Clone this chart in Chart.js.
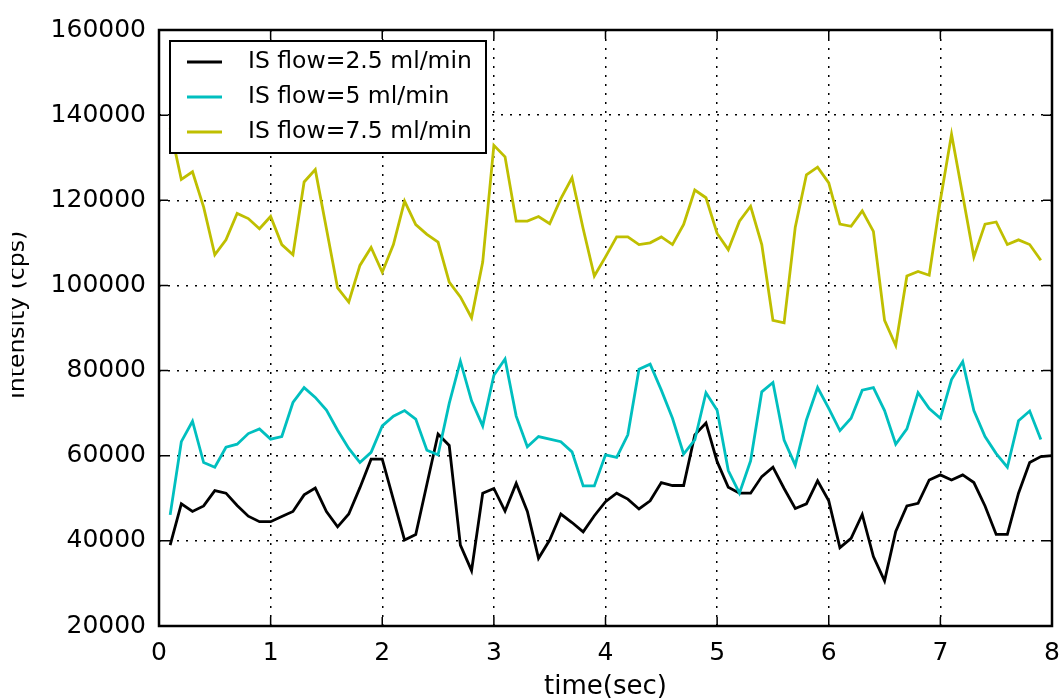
<!DOCTYPE html>
<html>
<head>
<meta charset="utf-8">
<script src="https://cdn.jsdelivr.net/npm/chart.js@4/dist/chart.umd.min.js"></script>
<style>
  html, body { margin: 0; padding: 0; background: #fff; }
  #wrap { width: 1061px; height: 698px; position: relative; }
</style>
</head>
<body>
<div id="wrap"><canvas id="intensityChart"></canvas></div>
<script>
// time axis, seconds
const times = [
  0.1, 0.2, 0.3, 0.4, 0.5, 0.6, 0.7, 0.8, 0.9, 1.0,
  1.1, 1.2, 1.3, 1.4, 1.5, 1.6, 1.7, 1.8, 1.9, 2.0,
  2.1, 2.2, 2.3, 2.4, 2.5, 2.6, 2.7, 2.8, 2.9, 3.0,
  3.1, 3.2, 3.3, 3.4, 3.5, 3.6, 3.7, 3.8, 3.9, 4.0,
  4.1, 4.2, 4.3, 4.4, 4.5, 4.6, 4.7, 4.8, 4.9, 5.0,
  5.1, 5.2, 5.3, 5.4, 5.5, 5.6, 5.7, 5.8, 5.9, 6.0,
  6.1, 6.2, 6.3, 6.4, 6.5, 6.6, 6.7, 6.8, 6.9, 7.0,
  7.1, 7.2, 7.3, 7.4, 7.5, 7.6, 7.7, 7.8, 7.9, 8.0
];

// intensity (cps) per IS flow
const flow25 = [
  39000, 48700, 46900, 48200, 51800, 51200, 48300, 45800, 44500, 44500,
  45700, 46900, 50800, 52400, 46900, 43300, 46300, 52500, 59200, 59200,
  49700, 40200, 41500, 53300, 65100, 62400, 39000, 33000, 51200, 52300,
  47000, 53500, 46900, 35900, 40200, 46300, 44300, 42100, 45900, 49200,
  51200, 49800, 47500, 49400, 53700, 53000, 53000, 64900, 67700, 58600,
  52600, 51200, 51200, 55100, 57300, 52300, 47600, 48700, 54100, 49400,
  38400, 40600, 46200, 36300, 30600, 42200, 48200, 48800, 54300, 55500,
  54300, 55500, 53700, 48200, 41500, 41500, 51200, 58400, 59800, 60000
];
const flow5 = [
  46100, 63300, 68100, 58400, 57300, 62000, 62700, 65200, 66300, 63900,
  64500, 72500, 76000, 73700, 70700, 66000, 61700, 58400, 60800, 67000,
  69300, 70600, 68600, 61300, 60200, 72300, 82200, 72900, 67000, 78900,
  82700, 69300, 62100, 64500, 63900, 63300, 60900, 52900, 52900, 60200,
  59600, 64900, 80300, 81500, 75400, 68800, 60400, 63700, 74800, 70700,
  56500, 51200, 58800, 75000, 77200, 63700, 57800, 68400, 76000, 71100,
  65900, 68800, 75400, 76000, 70600, 62700, 66300, 74800, 71100, 68800,
  77900, 82100, 70600, 64500, 60500, 57300, 68200, 70500, 63800
];
const flow75 = [
  137000, 124900, 126700, 118400, 107200, 110700, 116900, 115700, 113300, 116200,
  109600, 107200, 124300, 127200, 113300, 99400, 96100, 104700, 108900, 103100,
  109600, 119800, 114300, 112000, 110200, 100800, 97300, 92400, 105500, 132900,
  130200, 115100, 115100, 116200, 114500, 120400, 125300, 113300, 102200, 106700,
  111400, 111400, 109600, 110000, 111400, 109600, 114300, 122400, 120600, 112200,
  108400, 115100, 118600, 109600, 91800, 91200, 113700, 126000, 127800, 124100,
  114400, 113900, 117500, 112700, 91800, 85900, 102200, 103300, 102400, 120000,
  135500, 121200, 106700, 114400, 114900, 109600, 110700, 109600, 105900
];

const seriesLabels = ['IS flow=2.5 ml/min', 'IS flow=5 ml/min', 'IS flow=7.5 ml/min'];
const seriesColors = ['#000000', '#00bfbf', '#bfbf00'];

const xTicks = [0, 1, 2, 3, 4, 5, 6, 7, 8];
const yTicks = [20000, 40000, 60000, 80000, 100000, 120000, 140000, 160000];

const FONT = "'DejaVu Sans', sans-serif";

const toPoints = (vals) => vals.map((v, i) => ({ x: times[i], y: v }));

// frame + inward ticks on all four sides (classic matplotlib look)
const frameTicks = {
  id: 'frameTicks',
  afterDatasetsDraw(chart) {
    const { ctx, chartArea: a, scales } = chart;
    const len = 9;
    ctx.save();
    ctx.strokeStyle = '#000';
    ctx.lineWidth = 1.5;
    ctx.beginPath();
    xTicks.forEach(t => {
      const px = scales.x.getPixelForValue(t);
      ctx.moveTo(px, a.bottom); ctx.lineTo(px, a.bottom - len);
      ctx.moveTo(px, a.top); ctx.lineTo(px, a.top + len);
    });
    yTicks.forEach(t => {
      const py = scales.y.getPixelForValue(t);
      ctx.moveTo(a.left, py); ctx.lineTo(a.left + len, py);
      ctx.moveTo(a.right, py); ctx.lineTo(a.right - len, py);
    });
    ctx.stroke();
    ctx.lineWidth = 2.5;
    ctx.strokeRect(a.left, a.top, a.right - a.left, a.bottom - a.top);
    ctx.restore();
  }
};

// boxed legend in the upper left corner
const boxLegend = {
  id: 'boxLegend',
  afterDraw(chart) {
    const { ctx, chartArea: a } = chart;
    const x0 = a.left + 11, y0 = a.top + 11, w = 316, h = 112;
    ctx.save();
    ctx.fillStyle = '#fff';
    ctx.fillRect(x0, y0, w, h);
    ctx.strokeStyle = '#000';
    ctx.lineWidth = 2;
    ctx.strokeRect(x0, y0, w, h);
    ctx.font = '23.5px ' + FONT;
    ctx.textBaseline = 'middle';
    chart.data.datasets.forEach((ds, i) => {
      const cy = y0 + 21 + i * 35;
      ctx.strokeStyle = ds.borderColor;
      ctx.lineWidth = 2.8;
      ctx.beginPath();
      ctx.moveTo(x0 + 17, cy); ctx.lineTo(x0 + 52, cy);
      ctx.stroke();
      ctx.fillStyle = '#000';
      ctx.fillText(ds.label, x0 + 78, cy);
    });
    ctx.restore();
  }
};

// axis titles; the y title runs off the left edge
const axisTitles = {
  id: 'axisTitles',
  afterDraw(chart) {
    const { ctx, chartArea: a } = chart;
    ctx.save();
    ctx.fillStyle = '#000';
    ctx.font = '26px ' + FONT;
    ctx.textAlign = 'center';
    ctx.textBaseline = 'alphabetic';
    ctx.fillText('time(sec)', (a.left + a.right) / 2, 694);
    ctx.font = '23.5px ' + FONT;
    ctx.beginPath();
    ctx.rect(12, 0, 100, 698);
    ctx.clip();
    ctx.translate(24, 315);
    ctx.rotate(-Math.PI / 2);
    ctx.fillText('Intensity (cps)', 0, 0);
    ctx.restore();
  }
};

new Chart(document.getElementById('intensityChart'), {
  type: 'line',
  data: {
    datasets: [
      { label: seriesLabels[0], data: toPoints(flow25), borderColor: seriesColors[0], order: 3 },
      { label: seriesLabels[1], data: toPoints(flow5), borderColor: seriesColors[1], order: 2 },
      { label: seriesLabels[2], data: toPoints(flow75), borderColor: seriesColors[2], order: 1 }
    ].map(d => Object.assign(d, { borderWidth: 2.8, pointRadius: 0, tension: 0, fill: false }))
  },
  options: {
    responsive: true,
    maintainAspectRatio: false,
    animation: false,
    layout: { padding: { top: 30, right: 9, left: 0, bottom: 0 } },
    plugins: { legend: { display: false }, tooltip: { enabled: false } },
    scales: {
      x: {
        type: 'linear', min: 0, max: 8,
        afterFit: s => { s.height = 72; s.paddingLeft = 0; s.paddingRight = 0; },
        afterBuildTicks: s => { s.ticks = xTicks.map(v => ({ value: v })); },
        ticks: { color: '#000', padding: 12, font: { family: FONT, size: 25 }, maxRotation: 0 },
        grid: { color: '#000', lineWidth: 1.5, drawTicks: false },
        border: { display: false, dash: [2, 7] }
      },
      y: {
        min: 20000, max: 160000,
        afterFit: s => { s.width = 159; s.paddingTop = 0; s.paddingBottom = 0; },
        afterBuildTicks: s => { s.ticks = yTicks.map(v => ({ value: v })); },
        ticks: { color: '#000', padding: 13, font: { family: FONT, size: 25 }, callback: v => String(v) },
        grid: { color: '#000', lineWidth: 1.5, drawTicks: false },
        border: { display: false, dash: [2, 7] }
      }
    }
  },
  plugins: [frameTicks, boxLegend, axisTitles]
});
</script>
</body>
</html>
